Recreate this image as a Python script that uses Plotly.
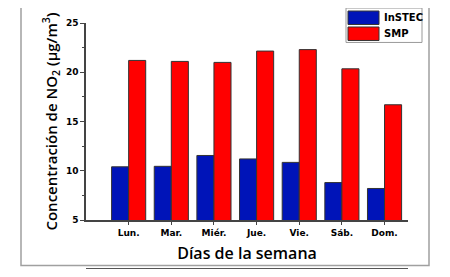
import plotly.graph_objects as go

days = ["Lun.", "Mar.", "Miér.", "Jue.", "Vie.", "Sáb.", "Dom."]
instec = [10.4, 10.45, 11.55, 11.2, 10.85, 8.8, 8.2]
smp = [21.2, 21.1, 21.0, 22.15, 22.3, 20.35, 16.7]
y_ticks = [5, 10, 15, 20, 25]
series_names = ["InSTEC", "SMP"]
series_colors = ["#0014B8", "#FF0000"]

fig = go.Figure()
for name, vals, col in zip(series_names, [instec, smp], series_colors):
    fig.add_trace(go.Bar(x=days, y=vals, name=name, showlegend=False,
                         marker=dict(color=col, line=dict(color="#333333", width=1))))

# page has an 8px body margin; figure is sized to fit the 450x277 window
OFF = 8
W, H = 450 - 2 * OFF, 277 - 2 * OFF
# plot area in page pixels: x 86..408, y 23..220.5
l = 86 - OFF
r = W - (408 - OFF)
t = 23 - OFF
b = H - (220.5 - OFF)
pw, ph = W - l - r, H - t - b

def px(x):
    return (x - OFF - l) / pw

def py(y):
    return (H - b - (y - OFF)) / ph

shapes = [
    dict(type="rect", xref="paper", yref="paper",
         x0=px(21), x1=px(429), y0=py(266), y1=py(3),
         line=dict(color="#A0A0A0", width=1.5), layer="below"),
    dict(type="line", xref="paper", yref="paper",
         x0=px(86), x1=px(408), y0=py(269.5), y1=py(269.5),
         line=dict(color="#555555", width=2)),
    # legend box
    dict(type="rect", xref="paper", yref="paper",
         x0=px(346), x1=px(422), y0=py(42.5), y1=py(8),
         line=dict(color="#999999", width=1), fillcolor="white"),
]
annotations = []
for i, (name, col) in enumerate(zip(series_names, series_colors)):
    y0 = 11 + i * 16
    shapes.append(dict(type="rect", xref="paper", yref="paper",
                       x0=px(348), x1=px(379), y0=py(y0 + 13.5), y1=py(y0),
                       line=dict(color="#333333", width=1), fillcolor=col))
    annotations.append(dict(xref="paper", yref="paper", x=px(381.5), y=py(y0 + 6.8),
                            xanchor="left", yanchor="middle", showarrow=False, text=name,
                            font=dict(family="DejaVu Sans", size=10, weight="bold", color="black")))

fig.update_layout(
    width=W, height=H,
    margin=dict(l=l, r=r, t=t, b=b, pad=0, autoexpand=False),
    paper_bgcolor="white", plot_bgcolor="white",
    barmode="group", bargap=0.2, bargroupgap=0,
    font=dict(family="DejaVu Sans", color="black"),
    showlegend=False,
    xaxis=dict(
        range=[-1, 6.55], showline=True, linecolor="#444444", linewidth=1.5,
        ticks="outside", ticklen=3, tickcolor="#444444",
        tickfont=dict(family="DejaVu Sans", size=9, weight="bold"),
        title=dict(text="Días de la semana", standoff=11,
                   font=dict(family="Open Sans", size=16, weight=600)),
        showgrid=False, zeroline=False,
    ),
    yaxis=dict(
        range=[5, 25], tickvals=y_ticks, showline=True, linecolor="#444444", linewidth=1.5,
        ticks="outside", ticklen=4, tickcolor="#444444",
        minor=dict(dtick=2.5, ticks="outside", ticklen=2, tickcolor="#444444", showgrid=False),
        tickfont=dict(family="DejaVu Sans", size=9, weight="bold"),
        title=dict(text="Concentración de NO<sub>2</sub> (µg/m<sup>3</sup>)", standoff=5,
                   font=dict(family="Open Sans", size=15, weight=600)),
        showgrid=False, zeroline=False,
    ),
    shapes=shapes,
    annotations=annotations,
)

fig.write_html("out.html")
